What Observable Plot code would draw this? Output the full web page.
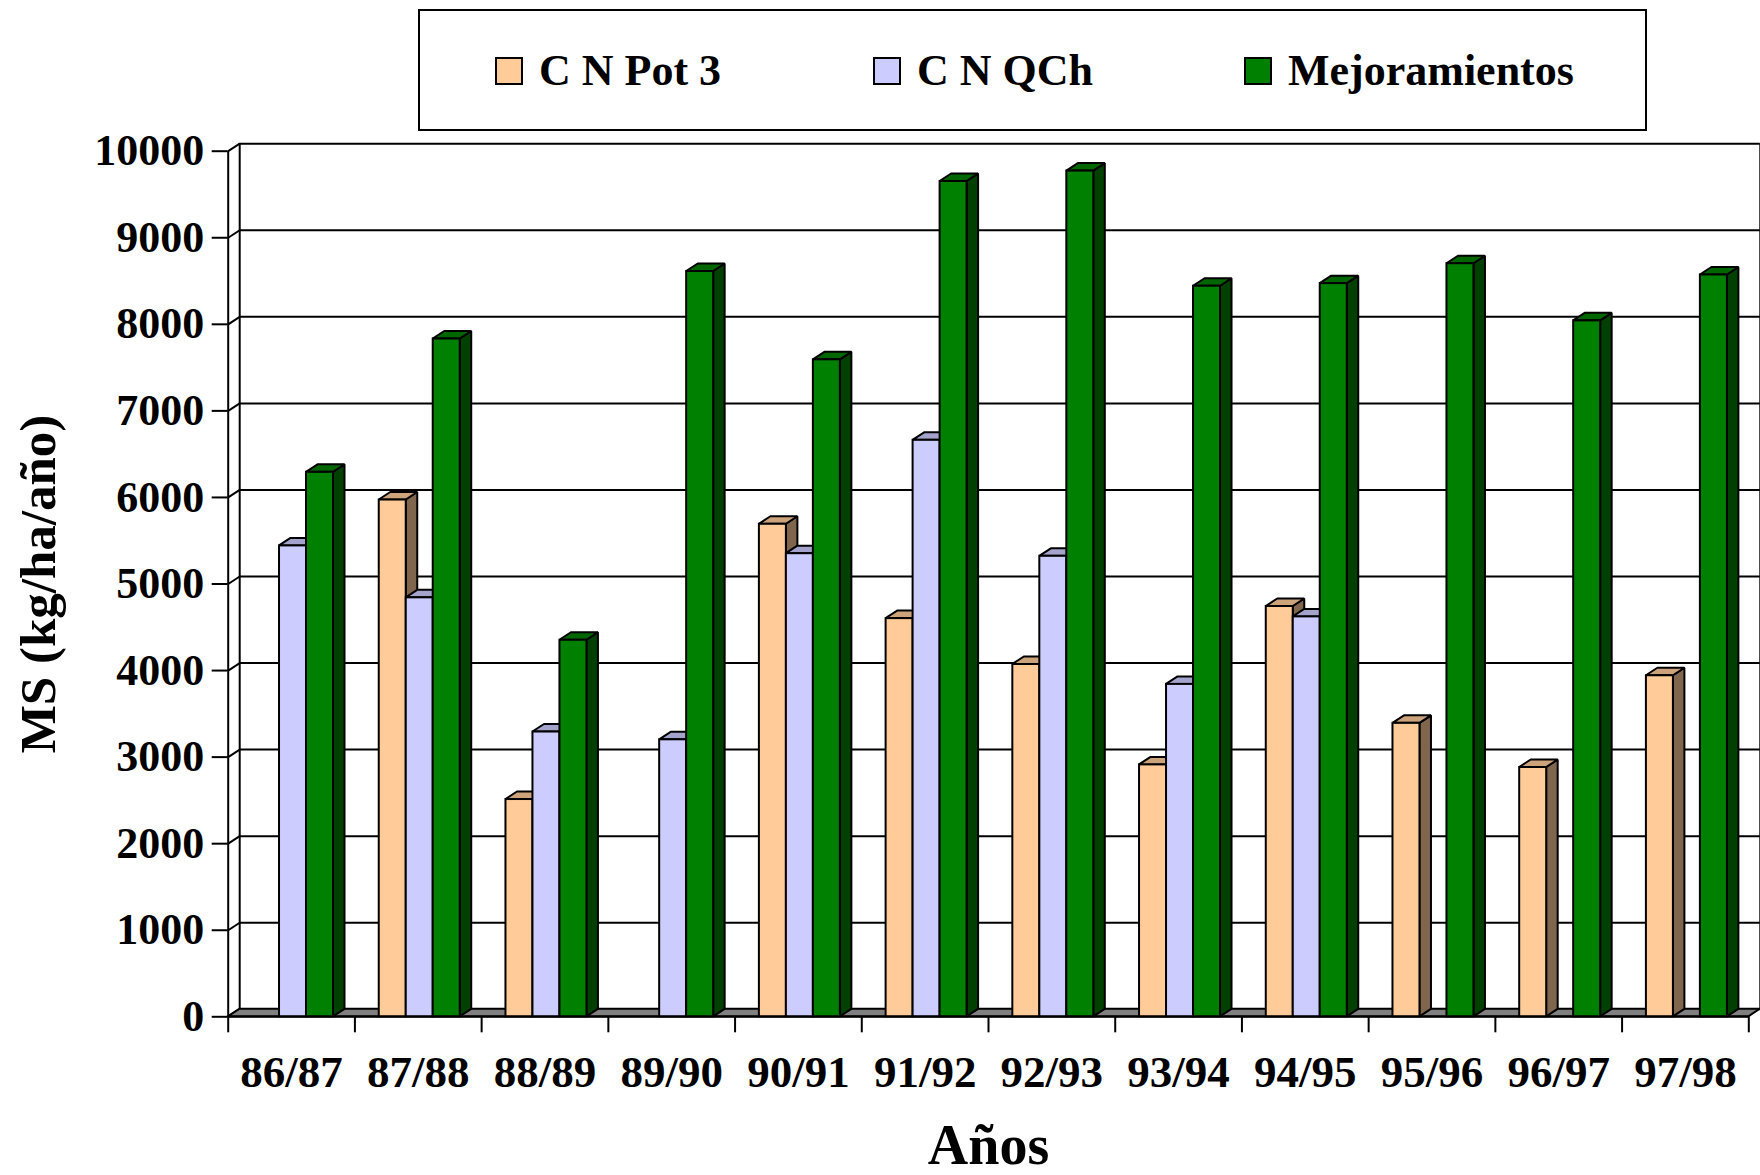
<!DOCTYPE html>
<html>
<head>
<meta charset="utf-8">
<script src="https://cdn.jsdelivr.net/npm/d3@7"></script>
<script src="https://cdn.jsdelivr.net/npm/@observablehq/plot@0.6"></script>
<style>
  html, body { margin: 0; padding: 0; background: #fff; }
  #wrap { position: relative; width: 1760px; height: 1175px; font-family: "Liberation Serif", "Times New Roman", serif; font-weight: bold; }
  #legend { position: absolute; left: 418px; top: 9px; width: 1229px; height: 122px; border: 2px solid #000; box-sizing: border-box; background: #fff; }
  .item { position: absolute; top: 57px; height: 28px; display: flex; align-items: center; white-space: nowrap; }
  .sw { width: 28px; height: 28px; border: 2px solid #000; box-sizing: border-box; margin-right: 16px; }
  .lbl { font-size: 44px; line-height: 44px; color: #000; }
  #chart { position: absolute; left: 0; top: 0; }
</style>
</head>
<body>
<div id="wrap">
  <div id="chart"></div>
  <div id="legend"></div>
</div>
<script>
// ---- data ----
const years = ["86/87","87/88","88/89","89/90","90/91","91/92","92/93","93/94","94/95","95/96","96/97","97/98"];
const seriesNames = ["C N Pot 3", "C N QCh", "Mejoramientos"];
const pot3 = [null, 5970, 2510, null, 5690, 4600, 4070, 2910, 4740, 3390, 2880, 3940];
const qch  = [5440, 4840, 3290, 3200, 5350, 6660, 5320, 3840, 4620, null, null, null];
const mej  = [6290, 7830, 4350, 8610, 7590, 9650, 9770, 8440, 8470, 8700, 8040, 8570];
const yTicks = [0, 1000, 2000, 3000, 4000, 5000, 6000, 7000, 8000, 9000, 10000];
const yTitle = "MS (kg/ha/año)";
const xTitle = "Años";

// ---- styles ----
const frontColors = ["#FFCC99", "#CCCCFF", "#008000"];
const topColors   = ["#CCA37A", "#A3A3CC", "#006600"];
const sideColors  = ["#80664D", "#666680", "#004000"];
const floorColor = "#808080";

const W = 1760, H = 1175;
const mt = 150.7, mb = 158.7, ml = 227.7, mr = 11.7;
const kx = (W - ml - mr) / years.length;   // px per category unit
const ky = (H - mt - mb) / 10000;          // px per y unit
const depthX = 11.5, depthY = 7.5;          // 3D depth in px
const dxU = depthX / kx, dyU = depthY / ky; // depth in data units
const slotOffset = 0.192, slotWidth = 0.213;
const sw = 2;

const seriesValues = [pot3, qch, mej];

function barMarks(s) {
  const vals = seriesValues[s];
  const bars = vals.map((v, i) => ({i, v})).filter(d => d.v != null)
    .map(d => ({...d, x1: d.i + slotOffset + s * slotWidth, x2: d.i + slotOffset + (s + 1) * slotWidth}));
  const side = bars.flatMap(d => [
    {id: d.i, x: d.x2, y1: 0, y2: d.v},
    {id: d.i, x: d.x2 + dxU, y1: dyU, y2: d.v + dyU}
  ]);
  const top = bars.flatMap(d => [
    {id: d.i, y: d.v, x1: d.x1, x2: d.x2},
    {id: d.i, y: d.v + dyU, x1: d.x1 + dxU, x2: d.x2 + dxU}
  ]);
  return [
    Plot.areaY(side, {x: "x", y1: "y1", y2: "y2", z: "id", fill: sideColors[s], stroke: "#000", strokeWidth: sw, strokeLinejoin: "miter"}),
    Plot.areaX(top, {y: "y", x1: "x1", x2: "x2", z: "id", fill: topColors[s], stroke: "#000", strokeWidth: sw, strokeLinejoin: "miter"}),
    Plot.rectY(bars, {x1: "x1", x2: "x2", y1: 0, y2: "v", fill: frontColors[s], stroke: "#000", strokeWidth: sw})
  ];
}

const floor = [
  {y: 0, x1: 0, x2: years.length},
  {y: dyU, x1: dxU, x2: years.length + dxU}
];

const chart = Plot.plot({
  width: W, height: H,
  marginTop: mt, marginBottom: mb, marginLeft: ml, marginRight: mr,
  style: {fontFamily: "'Liberation Serif', 'Times New Roman', serif", fontWeight: "bold", fontSize: "44px", color: "#000", background: "transparent", overflow: "visible"},
  x: {domain: [0, years.length], axis: null},
  y: {domain: [0, 10000], axis: null},
  marks: [
    // back wall gridlines and edges
    Plot.ruleY(yTicks, {x1: 0, x2: years.length, dx: depthX, dy: -depthY, stroke: "#000", strokeWidth: sw}),
    Plot.ruleX([0, years.length], {y1: 0, y2: 10000, dx: depthX, dy: -depthY, stroke: "#000", strokeWidth: sw}),
    // left wall connectors
    Plot.link(yTicks, {x1: 0, y1: d => d, x2: dxU, y2: d => d + dyU, stroke: "#000", strokeWidth: sw}),
    Plot.ruleX([0], {y1: 0, y2: 10000, stroke: "#000", strokeWidth: sw}),
    // floor
    Plot.areaX(floor, {y: "y", x1: "x1", x2: "x2", fill: floorColor, stroke: "#000", strokeWidth: sw}),
    // bars
    ...barMarks(0), ...barMarks(1), ...barMarks(2),
    // x axis ticks and labels
    Plot.ruleX(d3.range(years.length + 1), {y1: 0, y2: -16 / ky, stroke: "#000", strokeWidth: sw}),
    Plot.ruleY([0], {x1: 0, x2: years.length, stroke: "#000", strokeWidth: sw}),
    Plot.text(years, {x: (d, i) => i + 0.5, y: 0, dy: 56, text: d => d, fontSize: 45, fontWeight: "bold", fill: "#000"}),
    // y axis
    Plot.axisY({ticks: yTicks, tickSize: 16, tickPadding: 8, tickFormat: d => String(d), label: null, strokeWidth: sw, fontSize: 44, fontWeight: "bold", fill: "#000"}),
    // titles
    Plot.text([yTitle], {frameAnchor: "left", textAnchor: "middle", dx: -190, rotate: -90, fontSize: 51, fontWeight: "bold", fill: "#000"}),
    Plot.text([xTitle], {frameAnchor: "bottom", textAnchor: "middle", dy: 147, fontSize: 56, fontWeight: "bold", fill: "#000"})
  ]
});
document.getElementById("chart").appendChild(chart);

// legend
const legend = document.getElementById("legend");
const itemLefts = [495 - 418, 873 - 418, 1244 - 418];
seriesNames.forEach((name, s) => {
  const it = document.createElement("div");
  it.className = "item";
  it.style.left = (itemLefts[s] - 2) + "px";
  it.style.top = (57 - 9 - 2) + "px";
  const box = document.createElement("div");
  box.className = "sw";
  box.style.background = frontColors[s];
  const lbl = document.createElement("span");
  lbl.className = "lbl";
  lbl.textContent = name;
  it.appendChild(box); it.appendChild(lbl);
  legend.appendChild(it);
});
</script>
</body>
</html>
